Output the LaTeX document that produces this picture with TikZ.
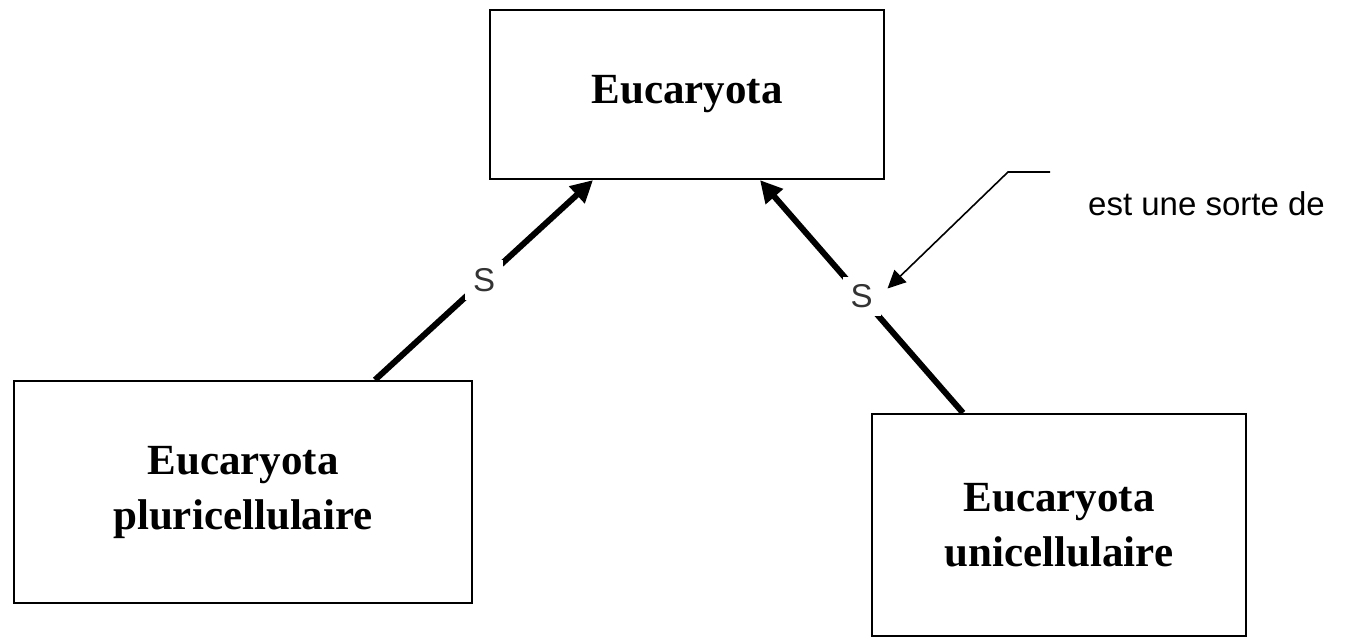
\documentclass[tikz,border=0pt]{standalone}
\usepackage{fontspec}
\setmainfont{Liberation Serif}
\newfontfamily\labelfont{Liberation Sans}
\usetikzlibrary{arrows.meta}
\begin{document}
\begin{tikzpicture}[x=1pt,y=-1pt,
  box/.style={draw=black,line width=2.2pt,fill=white,align=center,
    font=\fontsize{43}{55}\selectfont\bfseries,inner sep=0pt},
  rel/.style={line width=6pt,-{Triangle[length=22pt,width=22pt]}},
  slabel/.style={fill=white,text=black!80,font=\labelfont\fontsize{33}{36}\selectfont,inner xsep=8pt,inner ysep=8pt},
  note/.style={line width=1.6pt,-{Triangle[length=18pt,width=17pt]}},
  notetext/.style={font=\labelfont\fontsize{33}{36}\selectfont,anchor=west,inner sep=0pt}]
\useasboundingbox (0,0) rectangle (1357,638);
\node[box,minimum width=394pt,minimum height=169pt] (top) at (687,94.5) {Eucaryota};
\node[box,minimum width=458pt,minimum height=222pt] (left) at (243,492) {Eucaryota\\pluricellulaire};
\node[box,minimum width=374pt,minimum height=222pt] (right) at (1059,525) {Eucaryota\\unicellulaire};
\draw[rel] ([xshift=132pt]left.north) -- node[slabel] (s1) {S} ([xshift=-94pt]top.south);
\draw[rel] ([xshift=-96pt]right.north) -- node[slabel] (s2) {S} ([xshift=73pt]top.south);
\coordinate (a1) at (1050,172);
\coordinate (a2) at (1008,172);
\node[notetext] (t) at (1088,204) {est une sorte de};
\draw[note] (a1) -- (a2) -- ([xshift=4pt,yshift=8pt]s2.east);
\end{tikzpicture}
\end{document}
